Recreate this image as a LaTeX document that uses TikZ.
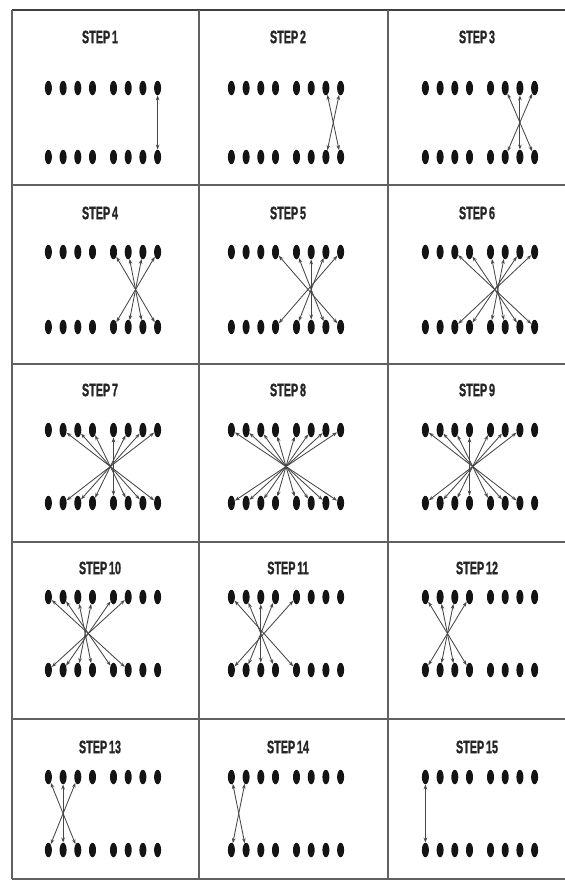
\documentclass[tikz,border=0pt]{standalone}
\usepackage{fontspec}
\usepackage{graphicx}
\setmainfont{Liberation Sans}
\newfontfamily\labfont[FakeBold=1.5]{Liberation Sans Bold}
\usetikzlibrary{shapes.geometric,arrows.meta}
\begin{document}
\begin{tikzpicture}[x=1pt,y=-1pt,
  dot/.style={ellipse,fill=black!92,draw=none,minimum width=7pt,minimum height=14.5pt,inner sep=0pt},
  link/.style={draw=black!72,line width=0.85pt,{Stealth[length=5pt,width=3.6pt]}-{Stealth[length=5pt,width=3.6pt]}},
  gridline/.style={draw=black!62,line width=1.3pt},
  steplabel/.style={font=\labfont\fontsize{18}{18}\selectfont,inner sep=0pt,text=black!85}]
\useasboundingbox (0,0) rectangle (565,881);
% grid
\draw[gridline,line width=2.6pt,draw=black!75] (12,10) -- (565,10);
\foreach \hy in {185,364,542,719,879} \draw[gridline] (12,\hy) -- (565,\hy);
\foreach \vx in {12,199,388} \draw[gridline] (\vx,10) -- (\vx,879);
% cells
\foreach \r/\ty/\tb/\ly in {0/88/157/37, 1/252/327/213, 2/430/503/390, 3/597/670/568, 4/777/850/747}
 \foreach \c/\cx/\lx in {0/103/100,1/286/288,2/480/477} {
   \pgfmathtruncatemacro{\k}{3*\r+\c+1}
   \node[steplabel] (lab\k) at (\lx,\ly) {\scalebox{0.6}[1]{STEP\,\k}};
   \foreach \i/\dx in {1/-54.6,2/-39.9,3/-25.2,4/-10.5,5/10.5,6/25.2,7/39.9,8/54.6} {
     \node[dot] (t\k-\i) at (\cx+\dx,\ty) {};
     \node[dot] (b\k-\i) at (\cx+\dx,\tb) {};
   }
   \pgfmathtruncatemacro{\s}{17-\k}
   \foreach \i in {1,...,8} {
     \pgfmathtruncatemacro{\j}{\s-\i}
     \ifnum\j>0 \ifnum\j<9 \draw[link] (t\k-\i) -- (b\k-\j); \fi\fi
   }
 }
\end{tikzpicture}
\end{document}
